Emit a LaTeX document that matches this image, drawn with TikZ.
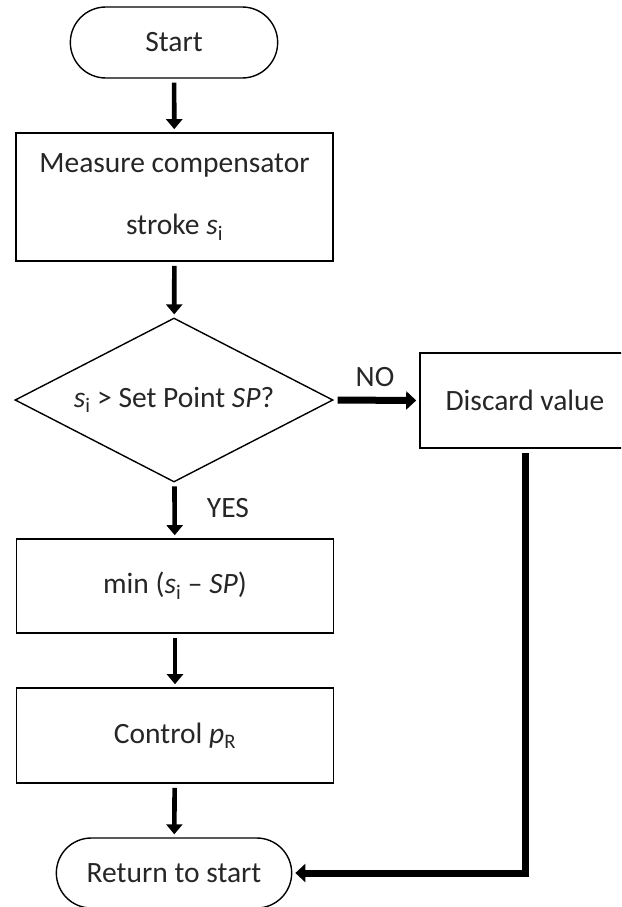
\documentclass[tikz,border=0pt]{standalone}
\usepackage{fontspec}
\setmainfont{Carlito}
\usetikzlibrary{shapes.geometric,shapes.misc,arrows.meta}
\begin{document}
\begin{tikzpicture}[x=1pt,y=-1pt,
    every node/.style={font=\fontsize{29.5}{35}\selectfont,text=black!85},
    term/.style={draw,rounded rectangle,line width=1.4pt,minimum width=214pt,minimum height=71pt,anchor=center},
    proc/.style={draw,rectangle,line width=1.6pt,minimum width=317pt,anchor=center},
    decide/.style={draw,diamond,aspect=2,inner sep=0pt,line width=1.4pt,minimum width=318pt,minimum height=164pt,anchor=center},
    flow/.style={line width=4.6pt,-{Triangle[width=16pt,length=10pt]},shorten <=4pt,shorten >=3pt},
    flowb/.style={line width=7pt,line join=miter,-{Triangle[width=18pt,length=10pt]},shorten <=4pt,shorten >=3pt}]
        \clip (0,0) rectangle (621,907);
        %% Blocks
        \node[term] (start) at (174,42.5) {Start};
        \node[proc,minimum height=128pt,align=center,font=\fontsize{29.5}{62}\selectfont] (measure) at (174.5,197) {Measure compensator\\stroke \textit{s}\textsubscript{i}};
        \node[decide] (check) at (174,400) {\textit{s}\textsubscript{i} > Set Point \textit{SP}?};
        \node[proc,minimum width=210pt,minimum height=95pt] (discard) at (525,400.5) {Discard value};
        \node[proc,minimum height=94pt] (minsp) at (175,586) {min (\textit{s}\textsubscript{i} -- \textit{SP})};
        \node[proc,minimum height=95pt] (control) at (175,735.5) {Control \textit{p}\textsubscript{R}};
        \node[term,minimum width=242pt,minimum height=70pt] (ret) at (174,873) {Return to start};
        %% Arrows
        \draw[flow] (start) -- (measure);
        \draw[flow] (measure) -- (check);
        \draw[flow] (check) -- (minsp);
        \draw[flow] (minsp) -- (control);
        \draw[flow] (control) -- (ret);
        \draw[flowb] (check.east) -- (discard.west);
        \draw[flowb] (discard.south) |- (ret.east);
        %% Labels
        \node (no) at (375,377) {NO};
        \node (yes) at (228,508) {YES};
    \end{tikzpicture}
\end{document}
